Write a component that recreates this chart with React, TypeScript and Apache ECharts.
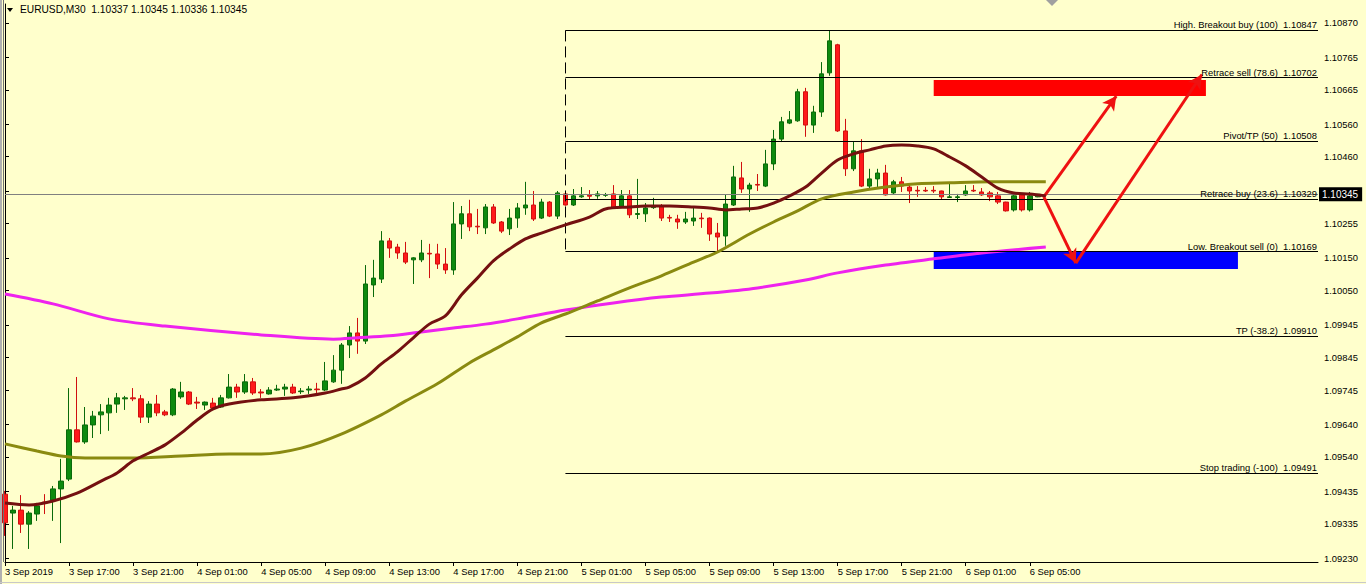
import React, { useEffect, useRef } from "react";
import * as echarts from "echarts";

const HEADER = "EURUSD,M30  1.10337 1.10345 1.10336 1.10345";
const TIME_LABELS = [
  "3 Sep 2019", "3 Sep 17:00", "3 Sep 21:00", "4 Sep 01:00", "4 Sep 05:00", "4 Sep 09:00",
  "4 Sep 13:00", "4 Sep 17:00", "4 Sep 21:00", "5 Sep 01:00", "5 Sep 05:00", "5 Sep 09:00",
  "5 Sep 13:00", "5 Sep 17:00", "5 Sep 21:00", "6 Sep 01:00", "6 Sep 05:00",
];
const PRICE_TICKS = [
  1.1087, 1.10765, 1.10665, 1.1056, 1.1046, 1.10355, 1.10255, 1.1015, 1.1005,
  1.09945, 1.09845, 1.09745, 1.0964, 1.0954, 1.09435, 1.09335, 1.0923,
];
const Y_MIN = 1.09218;
const Y_MAX = 1.10928;
const SLOT_COUNT = 165;
const BARS_PER_LABEL = 8;

const OPEN = [
  1.09426, 1.09368, 1.09377, 1.09334, 1.09365, 1.09402, 1.09408, 1.09442, 1.09472, 1.09623,
  1.09586, 1.09638, 1.09669, 1.09675, 1.09702, 1.09718, 1.09721, 1.09718, 1.09662, 1.09702,
  1.09678, 1.09669, 1.09724, 1.09739, 1.09708, 1.09699, 1.09705, 1.09693, 1.09721, 1.09754,
  1.09739, 1.0977, 1.09739, 1.09733, 1.09745, 1.09748, 1.09754, 1.0974, 1.09745, 1.09748,
  1.09745, 1.0977, 1.09806, 1.09883, 1.0992, 1.09895, 1.10067, 1.10085, 1.10202, 1.10183,
  1.10165, 1.10144, 1.10144, 1.10164, 1.10162, 1.10131, 1.10113, 1.10254, 1.10285, 1.10247,
  1.10242, 1.10306, 1.1026, 1.10239, 1.10272, 1.10303, 1.10312, 1.10272, 1.10321, 1.10278,
  1.10346, 1.10312, 1.10337, 1.10342, 1.1034, 1.10342, 1.10346, 1.10306, 1.1034, 1.10283,
  1.10285, 1.10304, 1.10309, 1.10274, 1.10269, 1.1026, 1.10263, 1.10272, 1.10272, 1.10226,
  1.10217, 1.10312, 1.10395, 1.10361, 1.10375, 1.1037, 1.10438, 1.10514, 1.10563, 1.1057,
  1.10659, 1.10557, 1.10597, 1.10717, 1.10803, 1.10539, 1.10423, 1.10478, 1.1037, 1.10392,
  1.1041, 1.10349, 1.10383, 1.10367, 1.10357, 1.10357, 1.10357, 1.10355, 1.10335, 1.10335,
  1.10343, 1.10357, 1.10352, 1.10349, 1.1034, 1.10321, 1.10297, 1.10343, 1.10297, 1.10337,
];
const CLOSE = [
  1.09338, 1.09377, 1.09334, 1.09368, 1.0939, 1.09399, 1.09442, 1.09466, 1.09623, 1.09586,
  1.09638, 1.09665, 1.09678, 1.09699, 1.09721, 1.09721, 1.09718, 1.09662, 1.09702, 1.09675,
  1.09669, 1.09748, 1.09739, 1.09702, 1.09705, 1.09708, 1.0969, 1.09721, 1.09754, 1.09739,
  1.0977, 1.09736, 1.09736, 1.09745, 1.09748, 1.09754, 1.09736, 1.09742, 1.09748, 1.09746,
  1.09773, 1.09806, 1.09883, 1.0992, 1.09895, 1.1007, 1.10088, 1.10202, 1.1018, 1.10165,
  1.10137, 1.1015, 1.10165, 1.10162, 1.10131, 1.10113, 1.10254, 1.10285, 1.10245, 1.10245,
  1.10306, 1.10257, 1.10232, 1.10272, 1.10303, 1.10312, 1.10269, 1.10321, 1.10278, 1.10349,
  1.10312, 1.1034, 1.1034, 1.10339, 1.10346, 1.10343, 1.10303, 1.1034, 1.10282, 1.10286,
  1.10303, 1.10307, 1.10272, 1.10272, 1.1026, 1.10269, 1.10272, 1.1027, 1.10223, 1.10214,
  1.10315, 1.10398, 1.10361, 1.10373, 1.10373, 1.10438, 1.10514, 1.10567, 1.10573, 1.10659,
  1.10557, 1.10597, 1.10714, 1.10815, 1.10539, 1.10423, 1.10478, 1.1037, 1.10392, 1.1041,
  1.10343, 1.10383, 1.1037, 1.10355, 1.10355, 1.10355, 1.10355, 1.10337, 1.10337, 1.10337,
  1.10355, 1.10355, 1.10343, 1.10337, 1.10321, 1.10294, 1.1034, 1.10297, 1.1034, 1.10345,
];
const LOW = [
  1.09298, 1.09258, 1.09307, 1.09258, 1.09344, 1.09365, 1.09344, 1.09276, 1.09466, 1.09584,
  1.0958, 1.09598, 1.0961, 1.0962, 1.09675, 1.09684, 1.09711, 1.09644, 1.09644, 1.09665,
  1.09665, 1.09665, 1.09718, 1.09699, 1.09687, 1.09684, 1.09684, 1.0969, 1.09719, 1.09721,
  1.09733, 1.0973, 1.09721, 1.09731, 1.09742, 1.09727, 1.09733, 1.09733, 1.09733, 1.09736,
  1.09742, 1.09767, 1.09764, 1.09843, 1.09856, 1.09886, 1.1003, 1.10073, 1.1015, 1.10147,
  1.10131, 1.1007, 1.10137, 1.10088, 1.10116, 1.10101, 1.10098, 1.10208, 1.10232, 1.10223,
  1.10223, 1.10254, 1.10226, 1.1022, 1.10242, 1.10282, 1.10263, 1.10269, 1.10275, 1.10269,
  1.1031, 1.10309, 1.10334, 1.10328, 1.10331, 1.10337, 1.103, 1.10303, 1.10272, 1.10269,
  1.1026, 1.103, 1.10263, 1.1026, 1.10239, 1.10254, 1.10248, 1.10242, 1.10202, 1.10169,
  1.10187, 1.10309, 1.10349, 1.10291, 1.10355, 1.10367, 1.10419, 1.10505, 1.1056, 1.10567,
  1.10521, 1.10533, 1.10582, 1.10708, 1.10536, 1.10401, 1.10416, 1.10367, 1.10358, 1.10364,
  1.10341, 1.10346, 1.10352, 1.10318, 1.10337, 1.10352, 1.10349, 1.10328, 1.10334, 1.10321,
  1.1034, 1.10352, 1.1034, 1.10324, 1.10315, 1.10292, 1.10292, 1.10292, 1.10292, 1.10336,
];
const HIGH = [
  1.09436, 1.0939, 1.09423, 1.09374, 1.09399, 1.09426, 1.09451, 1.09534, 1.09751, 1.09785,
  1.09693, 1.09681, 1.09702, 1.09721, 1.09736, 1.09727, 1.09751, 1.0973, 1.09711, 1.0973,
  1.09684, 1.09751, 1.0977, 1.09742, 1.09724, 1.0971, 1.09721, 1.0973, 1.09794, 1.09764,
  1.09794, 1.09782, 1.09748, 1.09754, 1.09761, 1.09764, 1.09764, 1.09751, 1.09757, 1.09767,
  1.09831, 1.09852, 1.09889, 1.09941, 1.09966, 1.10128, 1.10144, 1.10232, 1.10211, 1.10193,
  1.10199, 1.10152, 1.10205, 1.10193, 1.10193, 1.1018, 1.10321, 1.10309, 1.10328, 1.103,
  1.10315, 1.10315, 1.10263, 1.103, 1.10318, 1.10383, 1.10355, 1.10331, 1.10324, 1.10355,
  1.10349, 1.10361, 1.10367, 1.10358, 1.10355, 1.10349, 1.10373, 1.10358, 1.10358, 1.10392,
  1.10318, 1.10334, 1.10315, 1.10282, 1.10282, 1.10291, 1.10303, 1.10288, 1.10274, 1.10257,
  1.10343, 1.10432, 1.10444, 1.1038, 1.10407, 1.10481, 1.10542, 1.10582, 1.106, 1.10668,
  1.10671, 1.10616, 1.1075, 1.10847, 1.10806, 1.10576, 1.10505, 1.10514, 1.10423, 1.10423,
  1.10435, 1.10389, 1.10398, 1.10377, 1.1037, 1.10367, 1.1037, 1.10356, 1.10377, 1.10346,
  1.10373, 1.10373, 1.10364, 1.10355, 1.10352, 1.10322, 1.10343, 1.10346, 1.10352, 1.10345,
];

// moving averages read at bar index positions
const MA_FAST = [
  [0, 1.09399], [3, 1.09393], [6, 1.09405], [9, 1.09429], [12, 1.09466], [14, 1.09491],
  [16, 1.09528], [18, 1.09552], [20, 1.09577], [22, 1.09613], [24, 1.09653], [26, 1.09687],
  [28, 1.09702], [32, 1.09715], [36, 1.09721], [40, 1.09736], [42, 1.09748], [43, 1.09754],
  [45, 1.09782], [47, 1.09825], [49, 1.09862], [51, 1.09905], [53, 1.09947], [55, 1.09972],
  [57, 1.10036], [59, 1.10088], [61, 1.10141], [63, 1.10177], [65, 1.10208], [67, 1.10226],
  [70, 1.10251], [73, 1.10275], [75, 1.103], [78, 1.10306], [80, 1.10309], [83, 1.10309],
  [86, 1.10306], [88, 1.10303], [90, 1.10297], [92, 1.103], [94, 1.10303], [96, 1.10318],
  [98, 1.1034], [100, 1.10367], [102, 1.1041], [104, 1.1045], [106, 1.10469], [108, 1.10481],
  [110, 1.10493], [112, 1.10496], [114, 1.10493], [116, 1.10484], [118, 1.10459], [120, 1.10432],
  [122, 1.10398], [124, 1.10364], [126, 1.10349], [128, 1.10346], [130, 1.1034],
];
const MA_MID = [
  [0, 1.0958], [4, 1.09558], [7, 1.09543], [10, 1.09537], [16, 1.09537], [22, 1.09543],
  [28, 1.09549], [32, 1.09549], [37, 1.09567], [42, 1.0961], [47, 1.09669], [50, 1.09711],
  [54, 1.09764], [58, 1.09828], [61, 1.09868], [64, 1.09908], [67, 1.09951], [70, 1.09978],
  [74, 1.10018], [78, 1.10058], [82, 1.10095], [86, 1.10137], [89, 1.10168], [93, 1.10223],
  [96, 1.1026], [99, 1.10294], [102, 1.10331], [106, 1.10352], [110, 1.10367], [114, 1.10377],
  [118, 1.1038], [123, 1.10383], [130, 1.10383],
];
const MA_SLOW = [
  [0, 1.10039], [6, 1.10009], [13, 1.09963], [20, 1.09941], [32, 1.09914], [41, 1.09901],
  [44, 1.09905], [48, 1.09911], [52, 1.09923], [56, 1.09935], [60, 1.09947], [64, 1.09963],
  [70, 1.0999], [76, 1.10012], [82, 1.1003], [88, 1.10042], [94, 1.10058], [100, 1.10082],
  [104, 1.10104], [110, 1.10128], [116, 1.10147], [122, 1.10165], [130, 1.10183],
];

const FIB_NAMES = [
  "High. Breakout buy (100)", "Retrace sell (78.6)", "Pivot/TP (50)", "Retrace buy (23.6)",
  "Low. Breakout sell (0)", "TP (-38.2)", "Stop trading (-100)",
];
const FIB_VALUES = [1.10847, 1.10702, 1.10508, 1.10329, 1.10169, 1.0991, 1.09491];
const FIB_START = 70;
const FIB_END = 164;
const CURRENT_PRICE = 1.10345;

const SELL_ZONE = { x1: 116, x2: 150, top: 1.10695, bottom: 1.10646 };
const BUY_ZONE = { x1: 116, x2: 154, top: 1.10168, bottom: 1.10116 };
const ARROWS = [
  { from: [129.75, 1.10337], to: [138.8, 1.10646] },
  { from: [129.75, 1.10337], to: [133.75, 1.10134] },
  { from: [133.75, 1.10134], to: [149.5, 1.10712] },
];

const FONT = "Tahoma, 'Liberation Sans', Arial, sans-serif";
const FS = 9.4;

export default function App() {
  const ref = useRef<HTMLDivElement>(null);
  useEffect(() => {
    if (!ref.current) return;
    const chart = echarts.init(ref.current, null, { renderer: "svg" });
    const slots = Array.from({ length: SLOT_COUNT }, (_, i) => String(i));
    const candles = OPEN.map((o, i) => [o, CLOSE[i], LOW[i], HIGH[i]]);
    const showIdx = (i: number) => i % BARS_PER_LABEL === 0 && i / BARS_PER_LABEL < TIME_LABELS.length;

    const option: any = {
      animation: false,
      backgroundColor: "#FFFFCC",
      textStyle: { fontFamily: FONT },
      grid: { left: 5, right: 48, top: 4, bottom: 22, show: false },
      xAxis: [
        {
          type: "category",
          data: slots,
          boundaryGap: false,
          axisLine: { show: true, lineStyle: { color: "#000", width: 1 } },
          axisTick: { show: true, interval: (i: number) => showIdx(i), length: 4, lineStyle: { color: "#000" } },
          axisLabel: {
            interval: (i: number) => showIdx(i),
            formatter: (_v: string, i: number) => TIME_LABELS[i / BARS_PER_LABEL] || "",
            align: "left",
            margin: 5,
            color: "#000",
            fontSize: FS,
            fontFamily: FONT,
          },
          splitLine: { show: false },
        },
        { type: "value", min: 0, max: SLOT_COUNT - 1, show: false },
      ],
      yAxis: {
        type: "value",
        position: "right",
        min: Y_MIN,
        max: Y_MAX,
        scale: true,
        axisLine: { show: true, lineStyle: { color: "#000", width: 1 } },
        axisTick: { show: true, length: 4, customValues: PRICE_TICKS, lineStyle: { color: "#000" } },
        axisLabel: {
          customValues: PRICE_TICKS,
          formatter: (v: number) => v.toFixed(5),
          color: "#000",
          fontSize: FS,
          margin: 6,
          fontFamily: FONT,
        },
        splitLine: { show: false },
      },
      graphic: [
        { type: "rect", shape: { x: 0, y: 0, width: 2, height: 584 }, style: { fill: "#B0B0B0" }, z: 100 },
        { type: "line", shape: { x1: 3.5, y1: 0, x2: 3.5, y2: 562 }, style: { stroke: "#707070", lineWidth: 1 }, z: 100 },
        { type: "line", shape: { x1: 0, y1: 582.5, x2: 1366, y2: 582.5 }, style: { stroke: "#C8C8C8", lineWidth: 1 }, z: 100 },
        { type: "polygon", shape: { points: [[7, 8], [13, 8], [10, 12]] }, style: { fill: "#000" }, z: 100 },
        { type: "text", left: 20, top: 4, style: { text: HEADER, fontSize: 10.2, fontFamily: FONT, fill: "#000" }, z: 100 },
        { type: "polygon", shape: { points: [[1046, 0], [1058, 0], [1052, 6]] }, style: { fill: "#A0A0A0" }, z: 100 },
      ],
      series: [
        {
          type: "line",
          xAxisIndex: 1,
          data: [],
          z: 1,
          markArea: {
            silent: true,
            data: [
              [
                { coord: [SELL_ZONE.x1, SELL_ZONE.top], itemStyle: { color: "#FF0000", opacity: 1 } },
                { coord: [SELL_ZONE.x2, SELL_ZONE.bottom] },
              ],
              [
                { coord: [BUY_ZONE.x1, BUY_ZONE.top], itemStyle: { color: "#0000FF", opacity: 1 } },
                { coord: [BUY_ZONE.x2, BUY_ZONE.bottom] },
              ],
            ],
          },
          markLine: {
            silent: true,
            symbol: ["none", "none"],
            precision: 5,
            data: [
              ...FIB_VALUES.map((v, k) => [
                {
                  coord: [FIB_START, v],
                  lineStyle: { color: "#000", width: 1, type: "solid" },
                  label: {
                    show: true,
                    position: "insideEndTop",
                    distance: [1, 1],
                    formatter: `${FIB_NAMES[k]}  ${v.toFixed(5)}`,
                    color: "#000",
                    fontSize: FS,
                    fontFamily: FONT,
                  },
                },
                { coord: [FIB_END, v] },
              ]),
              [
                { coord: [FIB_START, FIB_VALUES[0]], lineStyle: { color: "#000", width: 1, type: [11, 5] }, label: { show: false } },
                { coord: [FIB_START, FIB_VALUES[4]] },
              ],
            ],
          },
        },
        {
          type: "line",
          xAxisIndex: 1,
          data: [],
          z: 2,
          markLine: {
            silent: true,
            symbol: ["none", "none"],
            precision: 5,
            data: [
              [
                {
                  coord: [0, CURRENT_PRICE],
                  lineStyle: { color: "#808080", width: 1, type: "solid" },
                  label: {
                    show: true,
                    position: "end",
                    distance: 1,
                    formatter: CURRENT_PRICE.toFixed(5),
                    color: "#fff",
                    backgroundColor: "#000",
                    padding: [2, 4, 2, 3],
                    fontSize: 10,
                    fontFamily: FONT,
                  },
                },
                { coord: [SLOT_COUNT - 1, CURRENT_PRICE] },
              ],
            ],
          },
        },
        {
          type: "candlestick",
          data: candles,
          barWidth: 5,
          z: 3,
          itemStyle: {
            color: "#0E8A0E",
            color0: "#FF1A1A",
            borderColor: "#0A6A0A",
            borderColor0: "#D01010",
            borderWidth: 1,
          },
        },
        {
          type: "line",
          xAxisIndex: 1,
          data: MA_SLOW,
          smooth: 0.3,
          showSymbol: false,
          symbol: "none",
          lineStyle: { color: "#EE22EE", width: 3 },
          z: 4,
        },
        {
          type: "line",
          xAxisIndex: 1,
          data: MA_MID,
          smooth: 0.3,
          showSymbol: false,
          symbol: "none",
          lineStyle: { color: "#8A8A10", width: 3 },
          z: 5,
        },
        {
          type: "line",
          xAxisIndex: 1,
          data: MA_FAST,
          smooth: 0.3,
          showSymbol: false,
          symbol: "none",
          lineStyle: { color: "#741010", width: 3 },
          z: 6,
        },
        {
          type: "line",
          xAxisIndex: 1,
          data: [],
          z: 10,
          markLine: {
            silent: true,
            symbol: ["none", "arrow"],
            symbolSize: [11, 14],
            precision: 5,
            label: { show: false },
            lineStyle: { color: "#EE1111", width: 3, type: "solid" },
            data: ARROWS.map((a) => [{ coord: a.from }, { coord: a.to }]),
          },
        },
      ],
    };
    chart.setOption(option);
    return () => chart.dispose();
  }, []);
  return (
    <div
      ref={ref}
      style={{ position: "fixed", left: 0, top: 0, width: 1366, height: 584, background: "#FFFFCC" }}
    />
  );
}
